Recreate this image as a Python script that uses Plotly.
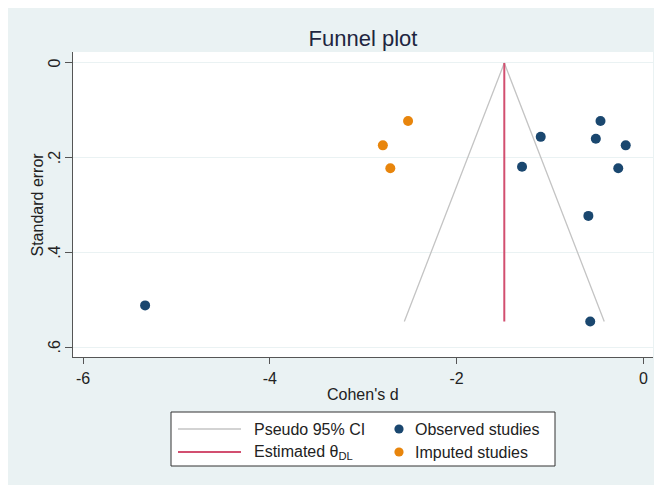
import plotly.graph_objects as go

# Data
observed_d = [-0.46, -1.10, -0.51, -0.19, -1.30, -0.27, -0.59, -0.57, -5.335]
observed_se = [0.1225, 0.156, 0.160, 0.174, 0.219, 0.2225, 0.323, 0.546, 0.512]
imputed_d = [-2.52, -2.79, -2.71]
imputed_se = [0.1225, 0.174, 0.2225]
theta_dl = -1.49
x_ticks = [-6, -4, -2, 0]
x_tick_labels = ["-6", "-4", "-2", "0"]
y_ticks = [0, 0.2, 0.4, 0.6]
y_tick_labels = ["0", ".2", ".4", ".6"]
legend_labels = ["Pseudo 95% CI", "Estimated θ<sub>DL</sub>", "Observed studies", "Imputed studies"]

se_max = max(observed_se)
ci_x = [theta_dl - 1.96 * se_max, theta_dl, theta_dl + 1.96 * se_max]
ci_y = [se_max, 0, se_max]

NAVY = "#1a476f"
ORANGE = "#e8850c"
RED = "#d24f70"
GREY = "#c4c4c4"
BG = "#eaf2f3"
TXT = "#222222"
FONT = "Liberation Sans, Arial, sans-serif"

# figure geometry (page has an 8px body margin)
W, H = 654, 477
L, R, T, B = 65, 9, 44, 128
pw, ph = W - L - R, H - T - B

def px_x(p):
    return (p - L) / pw

def px_y(p):
    return (H - B - p) / ph

fig = go.Figure()
fig.add_trace(go.Scatter(x=ci_x, y=ci_y, mode="lines", name=legend_labels[0],
                         line=dict(color=GREY, width=1.3)))
fig.add_trace(go.Scatter(x=observed_d, y=observed_se, mode="markers", name=legend_labels[2],
                         marker=dict(color=NAVY, size=10)))
fig.add_trace(go.Scatter(x=[theta_dl, theta_dl], y=[0, se_max], mode="lines",
                         name=legend_labels[1], line=dict(color=RED, width=2)))
fig.add_trace(go.Scatter(x=imputed_d, y=imputed_se, mode="markers", name=legend_labels[3],
                         marker=dict(color=ORANGE, size=10)))

# manual legend (box, keys, labels) in pixel layout
box = (163, 547, 404, 458)
row_y = [421, 444]
shapes = [
    dict(type="rect", xref="paper", yref="paper", x0=px_x(box[0]), x1=px_x(box[1]),
         y0=px_y(box[3]), y1=px_y(box[2]), fillcolor="white",
         line=dict(color="#333333", width=1), layer="above"),
    dict(type="line", xref="paper", yref="paper", x0=px_x(170), x1=px_x(233),
         y0=px_y(row_y[0]), y1=px_y(row_y[0]), line=dict(color=GREY, width=1.5)),
    dict(type="line", xref="paper", yref="paper", x0=px_x(170), x1=px_x(233),
         y0=px_y(row_y[1]), y1=px_y(row_y[1]), line=dict(color=RED, width=2)),
]
for ry, col in zip(row_y, [NAVY, ORANGE]):
    r = 4.6
    shapes.append(dict(type="circle", xref="paper", yref="paper",
                       x0=px_x(391 - r), x1=px_x(391 + r),
                       y0=px_y(ry + r), y1=px_y(ry - r),
                       fillcolor=col, line=dict(width=0), layer="above"))

annotations = []
for i, (lx, ry) in enumerate([(244, row_y[0]), (244, row_y[1]), (405, row_y[0]), (405, row_y[1])]):
    annotations.append(dict(text=legend_labels[i], xref="paper", yref="paper",
                            x=px_x(lx), y=px_y(ry), xanchor="left", yanchor="middle",
                            showarrow=False, font=dict(size=16, color=TXT)))
# y tick labels (rotated, Stata style), placed on the y scale
for v, lab in zip(y_ticks, y_tick_labels):
    annotations.append(dict(text=lab, xref="paper", yref="y", x=px_x(46.5), y=v,
                            textangle=-90, xanchor="center", yanchor="middle",
                            showarrow=False, font=dict(size=16, color=TXT)))
# axis titles
annotations.append(dict(text="Standard error", xref="paper", yref="paper",
                        x=px_x(28.5), y=px_y(197), textangle=-90, xanchor="center",
                        yanchor="middle", showarrow=False, font=dict(size=16, color=TXT)))
annotations.append(dict(text="Cohen's d", xref="paper", yref="paper",
                        x=0.5, y=px_y(386), xanchor="center",
                        yanchor="middle", showarrow=False, font=dict(size=16, color=TXT)))

fig.update_layout(
    width=W, height=H,
    margin=dict(l=L, r=R, t=T, b=B, autoexpand=False),
    paper_bgcolor=BG, plot_bgcolor="white",
    font=dict(family=FONT, size=16, color=TXT),
    title=dict(text="Funnel plot", x=0.5, xref="paper", xanchor="center",
               y=1 - 30 / H, yanchor="middle", font=dict(size=22, color="#1e2540")),
    showlegend=False,
    xaxis=dict(range=[-6.107, 0.102], tickvals=x_ticks, ticktext=x_tick_labels,
               showgrid=False, zeroline=False,
               showline=True, linecolor="#555555", linewidth=1, ticks="outside",
               ticklen=6, tickcolor="#555555", ticklabelstandoff=1, automargin=False),
    yaxis=dict(range=[0.621, -0.0232], tickvals=y_ticks, showticklabels=False,
               showgrid=True, gridcolor=BG, gridwidth=1, zeroline=False,
               showline=True, linecolor="#555555", linewidth=1, ticks="outside",
               ticklen=7, tickcolor="#555555", automargin=False),
    shapes=shapes,
    annotations=annotations,
)

fig.write_html("out.html")
